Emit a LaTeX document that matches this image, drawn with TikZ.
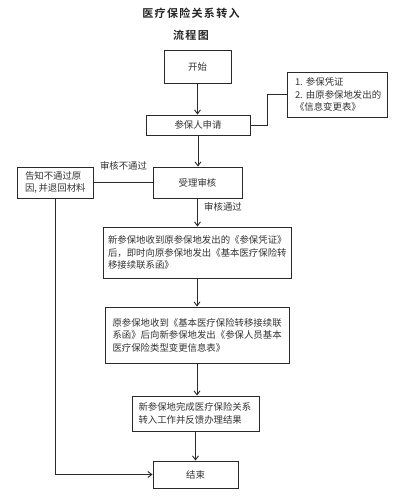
\documentclass[tikz,border=0pt]{standalone}
\usepackage{fontspec}
\newfontfamily\cjk{Noto Sans CJK SC}
\newfontfamily\cjkt{Noto Sans CJK SC Bold}[LetterSpace=12]
\usetikzlibrary{arrows.meta}
\definecolor{linec}{HTML}{2A2A2A}
\definecolor{textc}{HTML}{333333}
\begin{document}
\begin{tikzpicture}[x=1pt,y=-1pt,
  box/.style={draw=linec, line width=0.9pt, inner sep=0pt, text=textc,
    font=\cjk\fontsize{9.4}{12.5}\selectfont},
  ln/.style={draw=linec, line width=0.9pt},
  arr/.style={ln, -{Straight Barb[length=4pt,width=6pt]}},
  lbl/.style={inner sep=0pt, text=textc, font=\cjk\fontsize{9.4}{12.5}\selectfont},
  ttl/.style={inner sep=0pt, text=black!85, font=\cjkt\fontsize{11}{13}\selectfont}]
\useasboundingbox (0,0) rectangle (400,499);
\fill[white] (0,0) rectangle (400,499);

\node[ttl] (t1) at (191,13.5) {医疗保险关系转入};
\node[ttl] (t2) at (191,35) {流程图};

\node[box, minimum width=67pt, minimum height=33pt] (start) at (197.5,66.5) {开始};
\node[box, minimum width=100pt, minimum height=45pt, text width=84pt, align=left] (info) at (337,94.5)
  {1.~参保凭证\\2.~由原参保地发出的\\《信息变更表》};
\node[box, minimum width=104pt, minimum height=20pt] (apply) at (198,125) {参保人申请};
\node[box, minimum width=89pt, minimum height=31pt] (review) at (197.5,182.5) {受理审核};
\node[box, minimum width=76pt, minimum height=31pt, text width=60pt, align=left] (notify) at (55,182.5)
  {告知不通过原\\因,\,并退回材料};
\node[box, minimum width=188pt, minimum height=51pt, text width=178pt, align=left] (b3) at (197,252.5)
  {新参保地收到原参保地发出的《参保凭证》\\后，即时向原参保地发出《基本医疗保险转\\移接续联系函》};
\node[box, minimum width=184pt, minimum height=56pt, text width=169pt, align=left] (b4) at (197,335)
  {原参保地收到《基本医疗保险转移接续联\\系函》后向新参保地发出《参保人员基本\\医疗保险类型变更信息表》};
\node[box, minimum width=127pt, minimum height=35pt, text width=114pt, align=left] (b5) at (195.5,413.5)
  {新参保地完成医疗保险关系\\转入工作并反馈办理结果};
\node[box, minimum width=85pt, minimum height=27pt] (end) at (195.5,474.5) {结束};

\coordinate (bend) at (267,95);

\draw[arr] (start.south) -- (start.south |- apply.north);
\draw[arr] (apply.south) -- (apply.south |- review.north);
\draw[arr] (review.south) -- (review.south |- b3.north);
\draw[arr] (b3.south) -- (b3.south |- b4.north);
\draw[arr] (b4.south) -- (b4.south |- b5.north);
\draw[arr] (b5.south) -- (b5.south |- end.north);
\draw[ln] (info.west) -- (info.west -| bend) |- (apply.east);
\draw[ln] (review.west) -- (notify.east);
\draw[arr] (notify.south) |- (end.west);

\node[lbl, anchor=west] (pass) at (204,207) {审核通过};
\node[lbl] (fail) at (123.5,166) {审核不通过};
\end{tikzpicture}
\end{document}
